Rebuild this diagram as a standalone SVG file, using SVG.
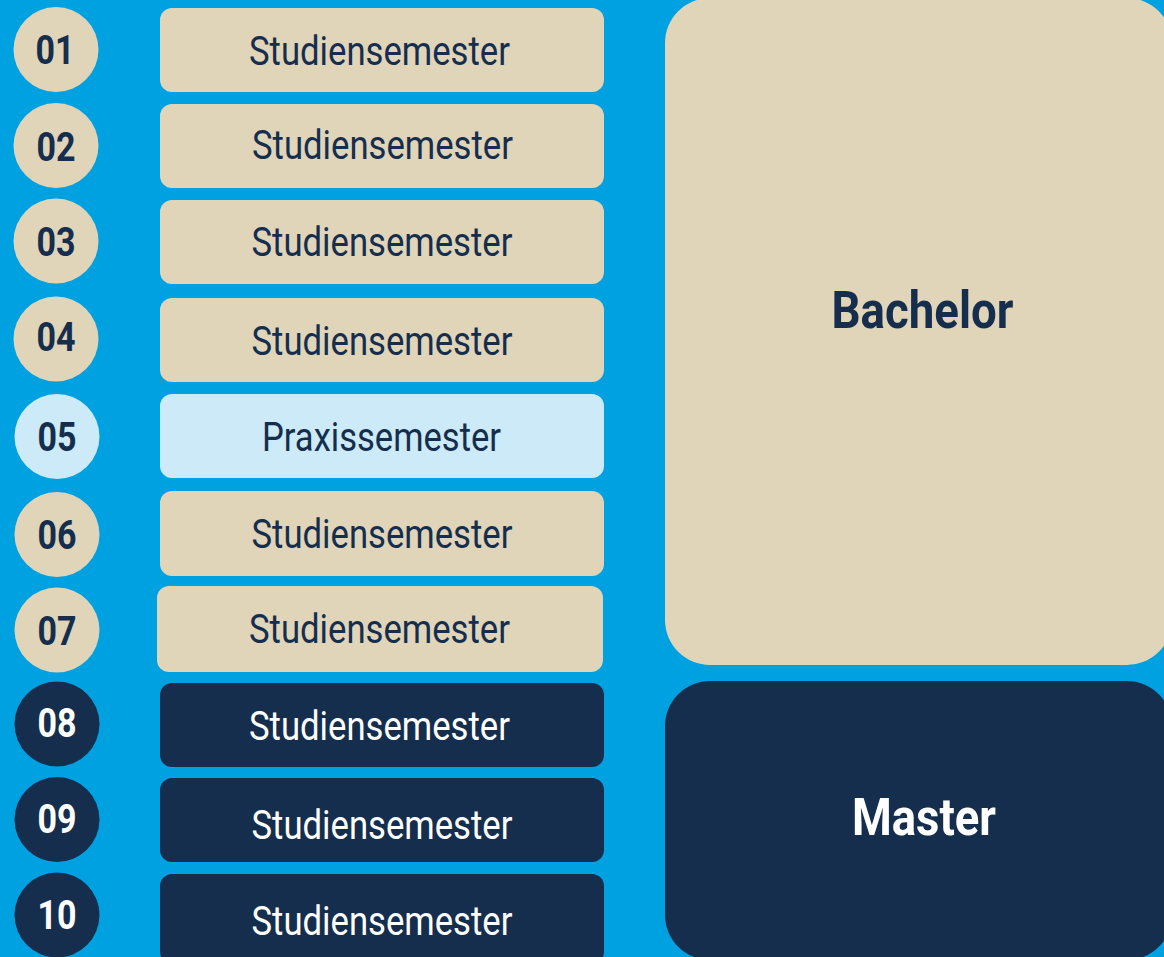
<svg xmlns="http://www.w3.org/2000/svg" width="1164" height="957" viewBox="0 0 1164 957">
<style>
.num{font-family:Roboto,"Liberation Sans",sans-serif;font-weight:700;font-size:41px;text-anchor:middle}
.lbl{font-family:Roboto,"Liberation Sans",sans-serif;font-weight:400;font-size:40px;text-anchor:middle}
.big{font-family:Roboto,"Liberation Sans",sans-serif;font-weight:700;font-size:52px;text-anchor:middle}
.beige{fill:#E0D4B9}
.light{fill:#CCEAF8}
.dark{fill:#152E4D}
.tdark{fill:#152E4D}
.twhite{fill:#FFFFFF}
</style>
<rect x="0" y="0" width="1164" height="957" fill="#00A1E1"/>
<g id="bachelor">
<rect class="beige" x="665" y="-2" width="507" height="667" rx="45"/>
<text class="big tdark" x="922.5" y="328" textLength="182" lengthAdjust="spacingAndGlyphs">Bachelor</text>
</g>
<g id="master">
<rect class="dark" x="665" y="681" width="507" height="279" rx="45"/>
<text class="big twhite" x="924" y="835" textLength="144" lengthAdjust="spacingAndGlyphs">Master</text>
</g>
<g id="sem01">
<circle class="beige" cx="56" cy="49.5" r="42.5"/>
<text class="num tdark" x="55" y="64" textLength="39" lengthAdjust="spacingAndGlyphs">01</text>
<rect class="beige" x="160" y="8" width="444" height="84" rx="12"/>
<text class="lbl tdark" x="379.5" y="65" textLength="261" lengthAdjust="spacingAndGlyphs">Studiensemester</text>
</g>
<g id="sem02">
<circle class="beige" cx="56" cy="145.5" r="42.5"/>
<text class="num tdark" x="56" y="161" textLength="39" lengthAdjust="spacingAndGlyphs">02</text>
<rect class="beige" x="160" y="104" width="444" height="84" rx="12"/>
<text class="lbl tdark" x="382.5" y="159" textLength="261" lengthAdjust="spacingAndGlyphs">Studiensemester</text>
</g>
<g id="sem03">
<circle class="beige" cx="56" cy="241" r="42.5"/>
<text class="num tdark" x="56" y="256" textLength="39" lengthAdjust="spacingAndGlyphs">03</text>
<rect class="beige" x="160" y="200" width="444" height="84" rx="12"/>
<text class="lbl tdark" x="382" y="256" textLength="261" lengthAdjust="spacingAndGlyphs">Studiensemester</text>
</g>
<g id="sem04">
<circle class="beige" cx="56" cy="339" r="42.5"/>
<text class="num tdark" x="56" y="351" textLength="39" lengthAdjust="spacingAndGlyphs">04</text>
<rect class="beige" x="160" y="298" width="444" height="84" rx="12"/>
<text class="lbl tdark" x="382" y="355" textLength="261" lengthAdjust="spacingAndGlyphs">Studiensemester</text>
</g>
<g id="sem05">
<circle class="light" cx="57" cy="436.5" r="42.5"/>
<text class="num tdark" x="57" y="451" textLength="39" lengthAdjust="spacingAndGlyphs">05</text>
<rect class="light" x="160" y="394" width="444" height="84" rx="12"/>
<text class="lbl tdark" x="381.5" y="451" textLength="239" lengthAdjust="spacingAndGlyphs">Praxissemester</text>
</g>
<g id="sem06">
<circle class="beige" cx="57" cy="534.5" r="42.5"/>
<text class="num tdark" x="57" y="549" textLength="39" lengthAdjust="spacingAndGlyphs">06</text>
<rect class="beige" x="160" y="491" width="444" height="85" rx="12"/>
<text class="lbl tdark" x="382" y="548" textLength="261" lengthAdjust="spacingAndGlyphs">Studiensemester</text>
</g>
<g id="sem07">
<circle class="beige" cx="57" cy="630" r="42.5"/>
<text class="num tdark" x="57" y="645" textLength="39" lengthAdjust="spacingAndGlyphs">07</text>
<rect class="beige" x="157" y="586" width="446" height="86" rx="12"/>
<text class="lbl tdark" x="379.5" y="643" textLength="261" lengthAdjust="spacingAndGlyphs">Studiensemester</text>
</g>
<g id="sem08">
<circle class="dark" cx="57" cy="724" r="42.5"/>
<text class="num twhite" x="57" y="737" textLength="39" lengthAdjust="spacingAndGlyphs">08</text>
<rect class="dark" x="160" y="683" width="444" height="84" rx="12"/>
<text class="lbl twhite" x="379.5" y="740" textLength="261" lengthAdjust="spacingAndGlyphs">Studiensemester</text>
</g>
<g id="sem09">
<circle class="dark" cx="57" cy="819.5" r="42.5"/>
<text class="num twhite" x="57" y="833" textLength="39" lengthAdjust="spacingAndGlyphs">09</text>
<rect class="dark" x="160" y="778" width="444" height="84" rx="12"/>
<text class="lbl twhite" x="382" y="839" textLength="261" lengthAdjust="spacingAndGlyphs">Studiensemester</text>
</g>
<g id="sem10">
<circle class="dark" cx="57" cy="915" r="42.5"/>
<text class="num twhite" x="57" y="929" textLength="39" lengthAdjust="spacingAndGlyphs">10</text>
<rect class="dark" x="160" y="874" width="444" height="90" rx="12"/>
<text class="lbl twhite" x="382" y="935" textLength="261" lengthAdjust="spacingAndGlyphs">Studiensemester</text>
</g>
<g id="connectors"/>
</svg>
